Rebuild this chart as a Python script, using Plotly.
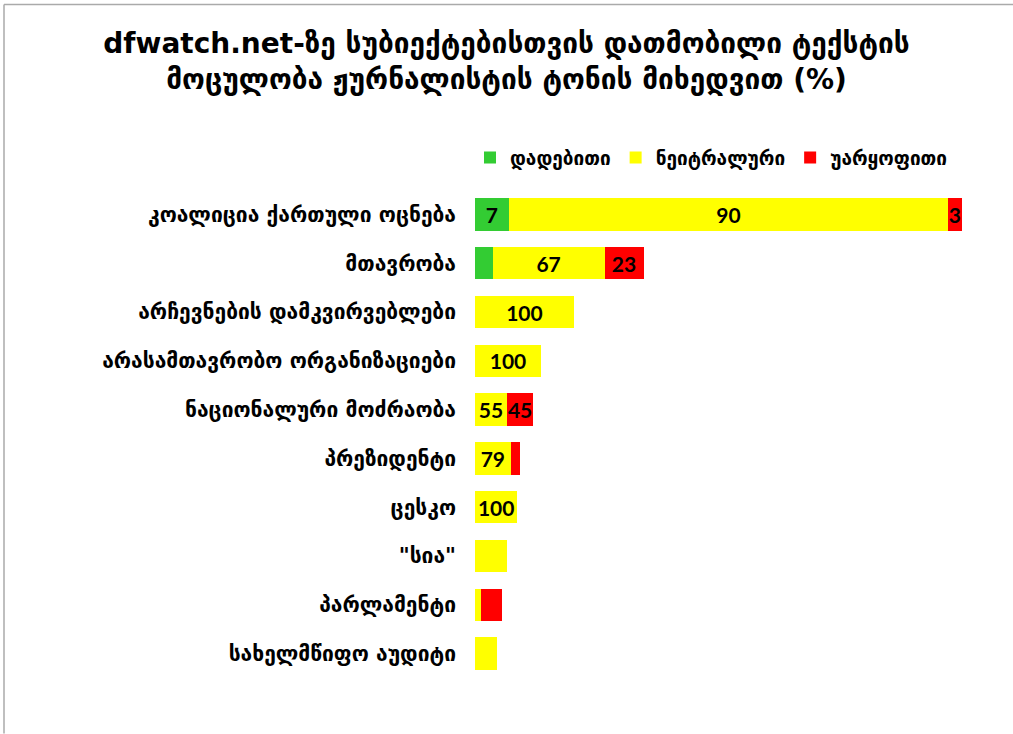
import plotly.graph_objects as go

categories = [
    "კოალიცია ქართული ოცნება",
    "მთავრობა",
    "არჩევნების დამკვირვებლები",
    "არასამთავრობო ორგანიზაციები",
    "ნაციონალური მოძრაობა",
    "პრეზიდენტი",
    "ცესკო",
    "\"სია\"",
    "პარლამენტი",
    "სახელმწიფო აუდიტი",
]
series_names = ["დადებითი", "ნეიტრალური", "უარყოფითი"]
# text volume (bar lengths)
positive = [10.1, 5.3, 0, 0, 0, 0, 0, 0, 0, 0]
neutral = [132.0, 33.6, 29.7, 19.8, 9.6, 10.7, 12.7, 9.7, 1.8, 6.5]
negative = [4.0, 11.7, 0, 0, 7.9, 2.8, 0, 0, 6.2, 0]
# percentage labels shown on the bars
positive_lbl = ["7", "", "", "", "", "", "", "", "", ""]
neutral_lbl = ["90", "67", "100", "100", "55", "79", "100", "", "", ""]
negative_lbl = ["3", "23", "", "", "45", "", "", "", "", ""]
colors = ["#33CC33", "#FFFF00", "#FF0000"]

W, H = 1013, 734
ml, mr, mt, mb = 475, 39, 189.5, 55.5
pw, ph = W - ml - mr, H - mt - mb

fig = go.Figure()
for name, vals, lbls, col in zip(series_names, [positive, neutral, negative],
                                 [positive_lbl, neutral_lbl, negative_lbl], colors):
    fig.add_trace(go.Bar(
        y=categories, x=vals, name=name, orientation="h",
        marker=dict(color=col, line=dict(width=0)),
        text=lbls, textposition="inside", insidetextanchor="middle",
        textangle=0, constraintext="none",
        textfont=dict(family="Lato, Open Sans, sans-serif", size=21, color="black", weight="bold"),
        hoverinfo="x+y+name",
    ))

geo_font = "DejaVu Sans, sans-serif"

def px_x(px):
    return (px - ml) / pw

def px_y(py):
    return (H - mb - py) / ph

fig.update_layout(
    width=W, height=H,
    barmode="stack", bargap=0.335,
    margin=dict(l=ml, r=mr, t=mt, b=mb),
    paper_bgcolor="white", plot_bgcolor="white",
    uniformtext=dict(minsize=21, mode="show"),
    title=dict(
        text="dfwatch.net-ზე სუბიექტებისთვის დათმობილი ტექსტის<br>მოცულობა ჟურნალისტის ტონის მიხედვით (%)",
        x=0.5, xanchor="center", xref="container",
        y=(H - 53) / H, yanchor="middle",
        font=dict(family=geo_font, size=28, color="black", weight="bold"),
    ),
    legend=dict(
        orientation="h", x=px_x(470), xanchor="left", y=px_y(157), yanchor="middle",
        font=dict(family=geo_font, size=19, color="black", weight="bold"),
        itemwidth=30, traceorder="normal", bgcolor="rgba(0,0,0,0)",
    ),
    xaxis=dict(range=[0, pw / 3.33], visible=False, fixedrange=True),
    yaxis=dict(
        autorange="reversed", showgrid=False, showline=False, zeroline=False,
        ticks="", ticklabelstandoff=18, fixedrange=True,
        tickfont=dict(family=geo_font, size=21, color="black", weight="bold"),
    ),
    shapes=[
        dict(type="line", xref="paper", yref="paper",
             x0=px_x(4), x1=px_x(1013), y0=px_y(3.5), y1=px_y(3.5),
             line=dict(color="#AAAAAA", width=1.5)),
        dict(type="line", xref="paper", yref="paper",
             x0=px_x(4), x1=px_x(4), y0=px_y(3.5), y1=px_y(734),
             line=dict(color="#AAAAAA", width=1.5)),
    ],
)

fig.write_html(
    "out.html",
    config={"displayModeBar": False},
    post_script="document.body.style.margin='0';document.body.style.overflow='hidden';",
)
